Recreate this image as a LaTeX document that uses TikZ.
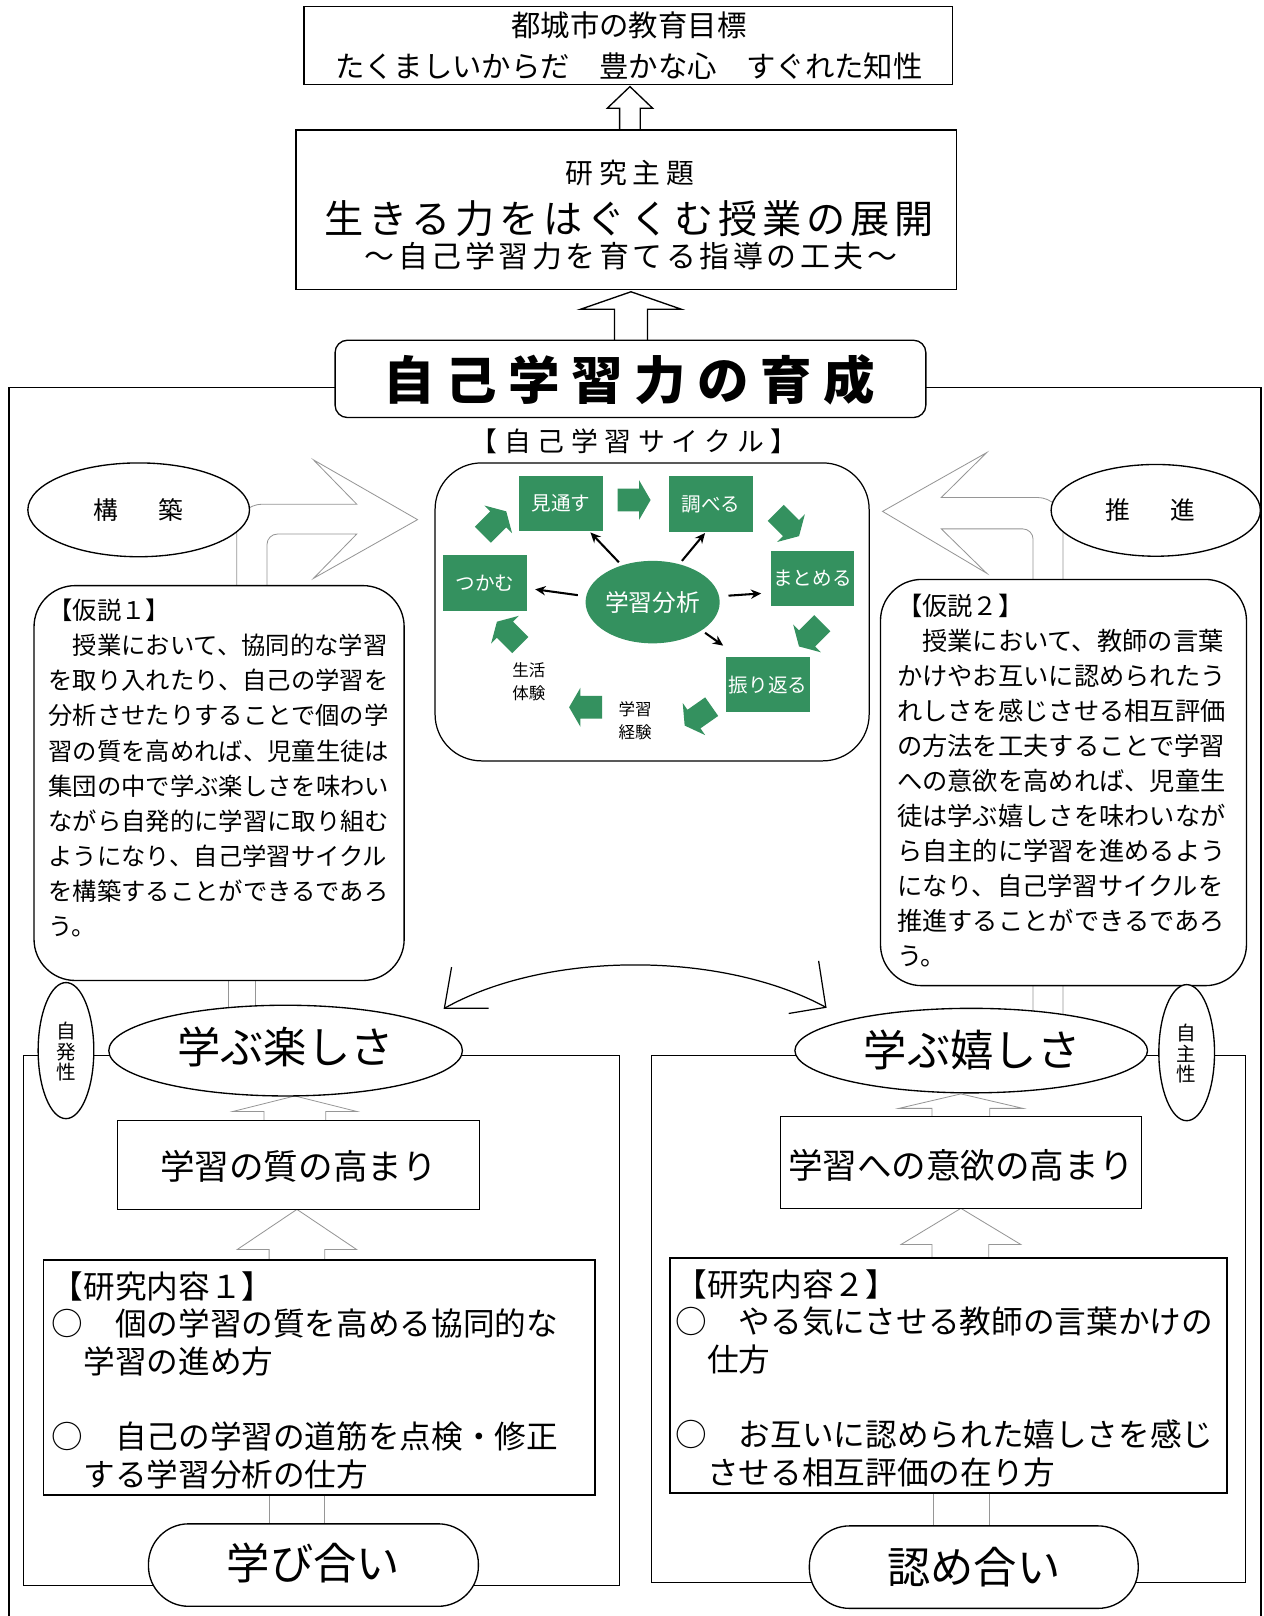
\documentclass[tikz,border=0pt]{standalone}
\usepackage{fontspec}
\setmainfont{Noto Sans CJK JP}
\usetikzlibrary{arrows.meta,shapes.geometric}
\definecolor{cgreen}{RGB}{52,145,95}
\definecolor{lgray}{RGB}{150,150,150}
\newcommand\fs[2]{\fontsize{#1pt}{#2pt}\selectfont}
\newcommand\ls[1]{\addfontfeatures{LetterSpace=#1}}
\newcommand\garrow[3]{\fill[cgreen,shift={(#1,#2)},rotate=#3] (-15,-11) -- (6,-11) -- (6,-19) -- (17,0) -- (6,19) -- (6,11) -- (-15,11) -- cycle;}
\begin{document}
\begin{tikzpicture}[x=1pt,y=-1pt,
  outline/.style={line width=1.3pt},
  box/.style={draw=black,line width=1.3pt,fill=white,inner sep=0pt},
  ghost/.style={draw=lgray,line width=0.8pt},
  hollow/.style={draw=lgray,line width=0.8pt,fill=white},
  gbox/.style={fill=cgreen,text=white,minimum width=81pt,minimum height=54pt,inner sep=0pt,font=\fs{19}{22}},
  bk/.style={-{Stealth[length=10pt,width=9pt]},line width=2pt},
  txt/.style={inner sep=0pt}]
\useasboundingbox (0,0) rectangle (1263,1616);
\fill[white] (0,0) rectangle (1263,1616);
\begin{scope}[transform canvas={scale=1.031}]
% outer frame
\draw[outline] (8.7,1616) -- (8.7,376) -- (1223,376) -- (1223,1616);
% inner frames
\draw[outline] (23,1024) rectangle (601,1538);
\draw[outline] (632,1024) rectangle (1208,1535);
% bent hollow arrows
\draw[ghost] (229.6,600) -- (229.6,514) to[out=90,in=180] (254.6,489) -- (346,489) -- (304,446) -- (405,504) -- (304,561) -- (346,518) -- (269,518) to[out=180,in=90] (259,528) -- (259,600);
\draw[ghost] (222,940) -- (222,990) (248,940) -- (248,990);
\draw[ghost] (1031,990) -- (1031,507.5) to[out=90,in=0] (1006,482.5) -- (913,482.5) -- (957,439) -- (856,496) -- (957,556) -- (913,513) -- (992,513) to[out=0,in=90] (1002,523) -- (1002,990);
% top block arrows
\draw[box] (601,126) -- (601,105) -- (589,105) -- (611,84) -- (633,105) -- (621,105) -- (621,126);
\draw[box] (596,331) -- (596,300) -- (563,300) -- (612,283) -- (661,300) -- (628,300) -- (628,331);
% lower hollow arrows
\draw[hollow] (256,1087) -- (256,1078) -- (226,1078) -- (286,1063) -- (346,1078) -- (316,1078) -- (316,1087);
\draw[hollow] (904,1083) -- (904,1075) -- (872,1075) -- (932,1061) -- (992,1075) -- (960,1075) -- (960,1083);
\draw[hollow] (261,1222) -- (261,1212) -- (230,1212) -- (288,1173) -- (346,1212) -- (315,1212) -- (315,1222);
\draw[hollow] (904,1220) -- (904,1207) -- (874,1207) -- (932,1172) -- (990,1207) -- (959,1207) -- (959,1220);
\draw[ghost] (261,1450) -- (261,1480) (315,1450) -- (315,1480);
\draw[ghost] (905,1448) -- (905,1482) (960,1448) -- (960,1482);
% boxes
\node[box,minimum width=629pt,minimum height=76pt] (goal) at (609.5,44) {};
\node[box,minimum width=641pt,minimum height=155pt] (theme) at (607.5,203.5) {};
\node[box,rounded corners=12pt,minimum width=573pt,minimum height=75pt] (ikusei) at (611.5,367.5) {};
\node[box,line width=1.2pt,rounded corners=45pt,minimum width=421pt,minimum height=289pt] (cyc) at (632.5,593.5) {};
\node[box,rounded corners=40pt,minimum width=359pt,minimum height=383pt] (hyp1) at (212.5,759.5) {};
\node[box,rounded corners=40pt,minimum width=355pt,minimum height=394pt] (hyp2) at (1031.5,759) {};
\node[box,ellipse,minimum width=215pt,minimum height=91pt] (kouchiku) at (134.5,494.5) {};
\node[box,ellipse,minimum width=203pt,minimum height=89pt] (suishin) at (1121,495) {};
\node[box,minimum width=351pt,minimum height=86pt] (shitsu) at (289.5,1130) {};
\node[box,minimum width=350pt,minimum height=89pt] (iyoku) at (932,1127.5) {};
\node[box,minimum width=535pt,minimum height=228pt] (kenkyu1) at (309.5,1336) {};
\node[box,minimum width=540pt,minimum height=228pt] (kenkyu2) at (920,1334) {};
\node[box,rounded corners=39pt,minimum width=320pt,minimum height=80pt] (manabi) at (304,1518) {};
\node[box,rounded corners=39pt,minimum width=319pt,minimum height=80pt] (mitome) at (944.5,1520) {};
\node[box,ellipse,minimum width=343pt,minimum height=88pt] (tano) at (277,1019) {};
\node[box,ellipse,minimum width=342pt,minimum height=82pt] (ure) at (942,1019) {};
\node[box,ellipse,minimum width=54pt,minimum height=132pt] (jihatsu) at (64,1019) {};
\node[box,ellipse,minimum width=54pt,minimum height=132pt] (jishu) at (1151,1021) {};
% curved double arrow
\coordinate (la) at (431,978);
\coordinate (ra) at (801,977);
\draw[line width=1.2pt] (la) .. controls (530,922) and (700,922) .. (ra);
\draw[line width=1.2pt] (438,938) -- (la) -- (474,978);
\draw[line width=1.2pt] (794,932) -- (ra) -- (765,983);
% texts top
\node[txt,font=\fs{28.5}{30}] (goalt1) at (610,25) {都城市の教育目標};
\node[txt,font=\fs{28.5}{30}] (goalt2) at (610,64) {たくましいからだ　豊かな心　すぐれた知性};
\node[txt,font=\fs{27}{30}\ls{22}] (themet1) at (611,168) {研究主題};
\node[txt,font=\fs{38}{40}\ls{12}] (themet2) at (610,212) {生きる力をはぐくむ授業の展開};
\node[txt,font=\fs{29}{30}\ls{12}] (themet3) at (612,248) {～自己学習力を育てる指導の工夫～};
\node[txt,font=\fs{50}{52}\bfseries\ls{22}] (ikuseit) at (610,368) {自己学習力の育成};
\node[txt,font=\fs{26}{30}\ls{25}] (cyct) at (615,428) {【自己学習サイクル】};
% cycle
\node[gbox] (mito) at (544,488.5) {見通す};
\node[gbox] (shira) at (689.5,489) {調べる};
\node[gbox] (matome) at (788,561) {まとめる};
\node[gbox] (furi) at (745,664) {振り返る};
\node[gbox] (tsuka) at (470.5,565.5) {つかむ};
\node[ellipse,fill=cgreen,text=white,minimum width=106pt,minimum height=80pt,inner sep=0pt,font=\fs{23}{25}] (anal) at (633,584) {学習分析};
\garrow{614}{485}{0}
\garrow{763}{508}{-45}
\garrow{787}{615}{-135}
\garrow{678}{694}{-145}
\garrow{569}{686}{180}
\garrow{494}{615}{135}
\garrow{479}{508}{45}
\draw[bk,shorten <=8pt,shorten >=8pt] (anal.175) -- ([yshift=-5pt]tsuka.east);
\draw[bk,shorten <=4pt,shorten >=1pt] (anal.130) -- ([xshift=28pt]mito.south);
\draw[bk,shorten <=4pt,shorten >=1pt] (anal.55) -- ([xshift=-5pt]shira.south);
\draw[bk,shorten <=9pt,shorten >=9pt] (anal.5) -- ([yshift=-14pt]matome.west);
\draw[bk,shorten <=4pt,shorten >=1pt] (anal.-30) -- ([shift={(-2pt,10pt)}]furi.north west);
\node[txt,align=center,font=\fs{16}{22}] (seikatsu) at (513,661) {生活\\体験};
\node[txt,align=center,font=\fs{16}{22}] (gakushu) at (616,699) {学習\\経験};
% ellipse labels
\node[txt,font=\fs{24}{26}] (kouchikut) at (kouchiku) {構\hspace{39pt}築};
\node[txt,font=\fs{24}{26}] (suishint) at (1116,495) {推\hspace{39pt}進};
% hypotheses
\node[txt,anchor=north west,align=left,font=\fs{23.6}{34}] (hyp1t) at (47,581) {【仮説１】\\　授業において、協同的な学習\\を取り入れたり、自己の学習を\\分析させたりすることで個の学\\習の質を高めれば、児童生徒は\\集団の中で学ぶ楽しさを味わい\\ながら自発的に学習に取り組む\\ようになり、自己学習サイクル\\を構築することができるであろ\\う。};
\node[txt,anchor=north west,align=left,font=\fs{24.5}{34}] (hyp2t) at (870,576) {【仮説２】\\　授業において、教師の言葉\\かけやお互いに認められたう\\れしさを感じさせる相互評価\\の方法を工夫することで学習\\への意欲を高めれば、児童生\\徒は学ぶ嬉しさを味わいなが\\ら自主的に学習を進めるよう\\になり、自己学習サイクルを\\推進することができるであろ\\う。};
% lower texts
\node[txt,font=\fs{42}{44}] (tanot) at (277,1015) {学ぶ楽しさ};
\node[txt,font=\fs{42}{44}] (uret) at (943,1018) {学ぶ嬉しさ};
\node[txt,align=center,font=\fs{19}{20}] (jihatsut) at (64,1020) {自\\発\\性};
\node[txt,align=center,font=\fs{19}{20}] (jishut) at (1151,1022) {自\\主\\性};
\node[txt,font=\fs{33.5}{40}] (shitsut) at (289.5,1131) {学習の質の高まり};
\node[txt,font=\fs{33.5}{40}] (iyokut) at (932,1130) {学習への意欲の高まり};
\node[txt,anchor=north west,align=left,font=\fs{30.7}{36.5}] (k1t) at (50,1233) {【研究内容１】\\○　個の学習の質を高める協同的な\\　学習の進め方\\[36.5pt]○　自己の学習の道筋を点検・修正\\　する学習分析の仕方};
\node[txt,anchor=north west,align=left,font=\fs{30.7}{36.5}] (k2t) at (655,1231) {【研究内容２】\\○　やる気にさせる教師の言葉かけの\\　仕方\\[36.5pt]○　お互いに認められた嬉しさを感じ\\　させる相互評価の在り方};
\node[txt,font=\fs{42}{44}] (manabit) at (304,1516) {学び合い};
\node[txt,font=\fs{42}{44}] (mitomet) at (944.5,1520) {認め合い};
\end{scope}
\end{tikzpicture}
\end{document}
